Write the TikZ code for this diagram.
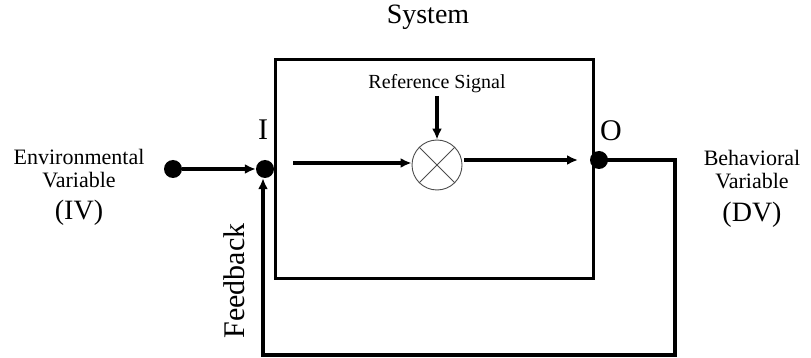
\documentclass[tikz,border=0pt]{standalone}
\usepackage{fontspec}
\setmainfont{Liberation Serif}
\usetikzlibrary{arrows.meta}
\begin{document}
\begin{tikzpicture}[x=1pt,y=-1pt,
  wire/.style={line width=3.2pt},
  arr/.style={wire,-{Latex[length=11pt,width=10pt]}},
  dotnode/.style={circle,fill=black,inner sep=0pt,minimum size=18pt},
  lbl/.style={font=\fontsize{22}{23}\selectfont,align=center}]
\useasboundingbox (0,0) rectangle (811,358);
\node[draw,line width=3pt,minimum width=318pt,minimum height=218pt,inner sep=0pt] (sys) at (434,169) {};
\node[font=\fontsize{28}{30}\selectfont] (systxt) at (428,17) {System};
\node[dotnode] (env) at (173,169) {};
\node[dotnode] (in) at (265,169) {};
\node[dotnode] (out) at (599,160) {};
\node[circle,draw=black!70,line width=0.9pt,minimum size=50pt,inner sep=0pt] (cmp) at (437,165) {};
\draw[black!70,line width=0.9pt] (cmp.45) -- (cmp.225) (cmp.135) -- (cmp.315);
\node[font=\fontsize{20}{22}\selectfont] (ref) at (437,84) {Reference Signal};
\node[font=\fontsize{30}{32}\selectfont] (itxt) at (263,130) {I};
\node[font=\fontsize{30}{32}\selectfont] (otxt) at (611,131) {O};
\node[lbl] (envtxt) at (79,169) {Environmental\\Variable};
\node[font=\fontsize{28}{30}\selectfont] (ivtxt) at (79,213) {(IV)};
\node[lbl] (behtxt) at (752,170) {Behavioral\\Variable};
\node[font=\fontsize{28}{30}\selectfont] (dvtxt) at (752,215) {(DV)};
\node[font=\fontsize{30}{32}\selectfont,rotate=90] (fbtxt) at (234,281) {Feedback};
\coordinate (c1) at (293,163);
\coordinate (r1) at (437,96);
\coordinate (o1) at (464,160);
\coordinate (o2) at (578,160);
\coordinate (f1) at (675,160);
\coordinate (f2) at (675,355);
\coordinate (f3) at (263,355);
\draw[arr] (env.east) -- (in.west);
\draw[arr] (c1) -- (c1 -| cmp.west);
\draw[arr] (r1) -- (cmp.north);
\draw[arr] (o1) -- (o2);
\draw[arr] (out.center) -- (f1) -- (f2) -- (f3) -- (in.south -| f3);
\end{tikzpicture}
\end{document}
